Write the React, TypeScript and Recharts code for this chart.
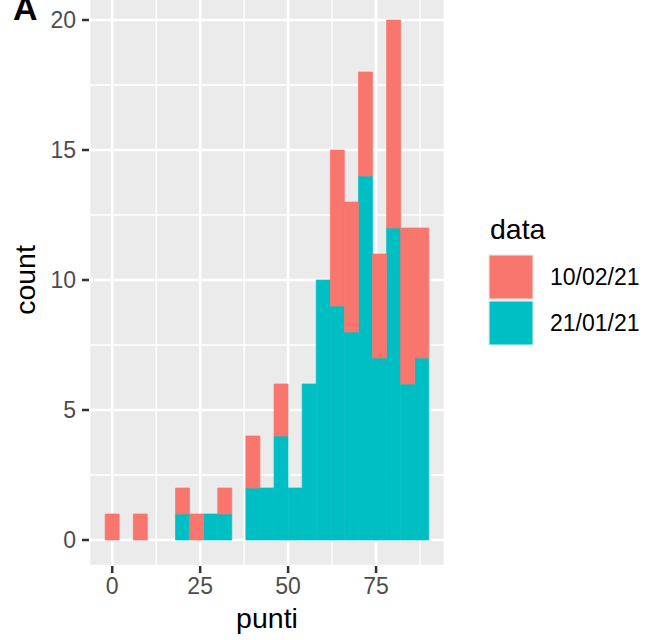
import React from 'react'
import { BarChart, Bar, XAxis, YAxis, CartesianGrid, Legend } from 'recharts'

// histogram of "punti", binwidth 4, stacked by date
const BIN_MIDS = [0, 4, 8, 12, 16, 20, 24, 28, 32, 36, 40, 44, 48, 52, 56, 60, 64, 68, 72, 76, 80, 84, 88]
const COUNT_2101 = [0, 0, 0, 0, 0, 1, 0, 1, 1, 0, 2, 2, 4, 2, 6, 10, 9, 8, 14, 7, 12, 6, 7]
const COUNT_1002 = [1, 0, 1, 0, 0, 1, 1, 0, 1, 0, 2, 0, 2, 0, 0, 0, 6, 5, 4, 4, 8, 6, 5]

const SERIES = ['10/02/21', '21/01/21']
const COLORS: Record<string, string> = {
  '10/02/21': '#F8766D',
  '21/01/21': '#00BFC4',
}

const X_TICKS = [0, 25, 50, 75]
const Y_TICKS = [0, 5, 10, 15, 20]
const X_MINOR = [12.5, 37.5, 62.5, 87.5]
const Y_MINOR = [2.5, 7.5, 12.5, 17.5]
const X_DOMAIN: [number, number] = [-6.6, 94.6]
const Y_DOMAIN: [number, number] = [-1, 21]

const FONT = '"Liberation Sans", Arial, Helvetica, sans-serif'

const data = BIN_MIDS.map((x, i) => ({
  punti: x,
  '21/01/21': COUNT_2101[i],
  '10/02/21': COUNT_1002[i],
}))

const minorVertical = ({ xAxis, offset }: any) =>
  X_MINOR.map(v =>
    typeof xAxis?.scale === 'function'
      ? xAxis.scale(v)
      : offset.left + ((v - X_DOMAIN[0]) / (X_DOMAIN[1] - X_DOMAIN[0])) * offset.width
  )

const minorHorizontal = ({ yAxis, offset }: any) =>
  Y_MINOR.map(v =>
    typeof yAxis?.scale === 'function'
      ? yAxis.scale(v)
      : offset.top + ((Y_DOMAIN[1] - v) / (Y_DOMAIN[1] - Y_DOMAIN[0])) * offset.height
  )

function GgLegend() {
  return (
    <svg width={160} height={140} style={{ fontFamily: FONT, overflow: 'visible' }}>
      <text x={4} y={27} fontSize={28.5} fill="#000">data</text>
      {SERIES.map((s, i) => (
        <g key={s}>
          <rect x={2} y={42 + i * 46} width={46} height={46} fill="#F2F2F2" />
          <rect x={3.5} y={43.5 + i * 46} width={43} height={43} fill={COLORS[s]} />
          <text x={64} y={65 + i * 46} dy="0.355em" fontSize={23} fill="#000">{s}</text>
        </g>
      ))}
    </svg>
  )
}

export default function App() {
  return (
    <div style={{ position: 'absolute', left: 0, top: 0, width: 645, height: 640, overflow: 'hidden', background: '#fff', fontFamily: FONT }}>
      <div style={{ position: 'absolute', left: 0, top: -6 }}>
        <BarChart
          width={645}
          height={646}
          data={data}
          margin={{ top: 0, right: 200, bottom: 0, left: 0 }}
          barCategoryGap={0}
          barGap={0}
        >
          <CartesianGrid fill="#EBEBEB" stroke="#FFFFFF" strokeWidth={2.6} />
          <CartesianGrid
            fill="none"
            stroke="#FFFFFF"
            strokeWidth={1.3}
            verticalCoordinatesGenerator={minorVertical}
            horizontalCoordinatesGenerator={minorHorizontal}
          />
          <XAxis
            dataKey="punti"
            type="number"
            domain={X_DOMAIN}
            allowDataOverflow
            ticks={X_TICKS}
            interval={0}
            height={74}
            axisLine={false}
            stroke="#333333"
            tickLine={{ stroke: '#333333', strokeWidth: 2.5 }}
            tickSize={7}
            tickMargin={5}
            tick={{ fill: '#4D4D4D', fontSize: 23, fontFamily: FONT }}
            label={{ value: 'punti', position: 'insideBottom', offset: 12, fill: '#000', fontSize: 28.5, fontFamily: FONT }}
          />
          <YAxis
            type="number"
            domain={Y_DOMAIN}
            allowDataOverflow
            ticks={Y_TICKS}
            interval={0}
            width={89}
            axisLine={false}
            stroke="#333333"
            tickLine={{ stroke: '#333333', strokeWidth: 2.5 }}
            tickSize={7}
            tickMargin={6}
            tick={{ fill: '#4D4D4D', fontSize: 23, fontFamily: FONT }}
            label={{ value: 'count', angle: -90, position: 'insideLeft', offset: 25, fill: '#000', fontSize: 28.5, fontFamily: FONT, style: { textAnchor: 'middle' } }}
          />
          <Legend
            layout="horizontal"
            align="center"
            verticalAlign="middle"
            wrapperStyle={{ position: 'absolute', left: 486, top: 218, width: 160, height: 140 }}
            content={() => <GgLegend />}
          />
          {/* thin same-colour stroke hides the anti-aliasing seams between adjacent bins */}
          <Bar dataKey="21/01/21" stackId="a" fill={COLORS['21/01/21']} stroke={COLORS['21/01/21']} strokeWidth={0.7} isAnimationActive={false} />
          <Bar dataKey="10/02/21" stackId="a" fill={COLORS['10/02/21']} stroke={COLORS['10/02/21']} strokeWidth={0.7} isAnimationActive={false} />
        </BarChart>
      </div>
      <svg width={80} height={40} style={{ position: 'absolute', left: 0, top: 0 }}>
        <text x={13} y={19.5} fontSize={34} fontWeight="bold" fontFamily={FONT} fill="#000">A</text>
      </svg>
    </div>
  )
}
